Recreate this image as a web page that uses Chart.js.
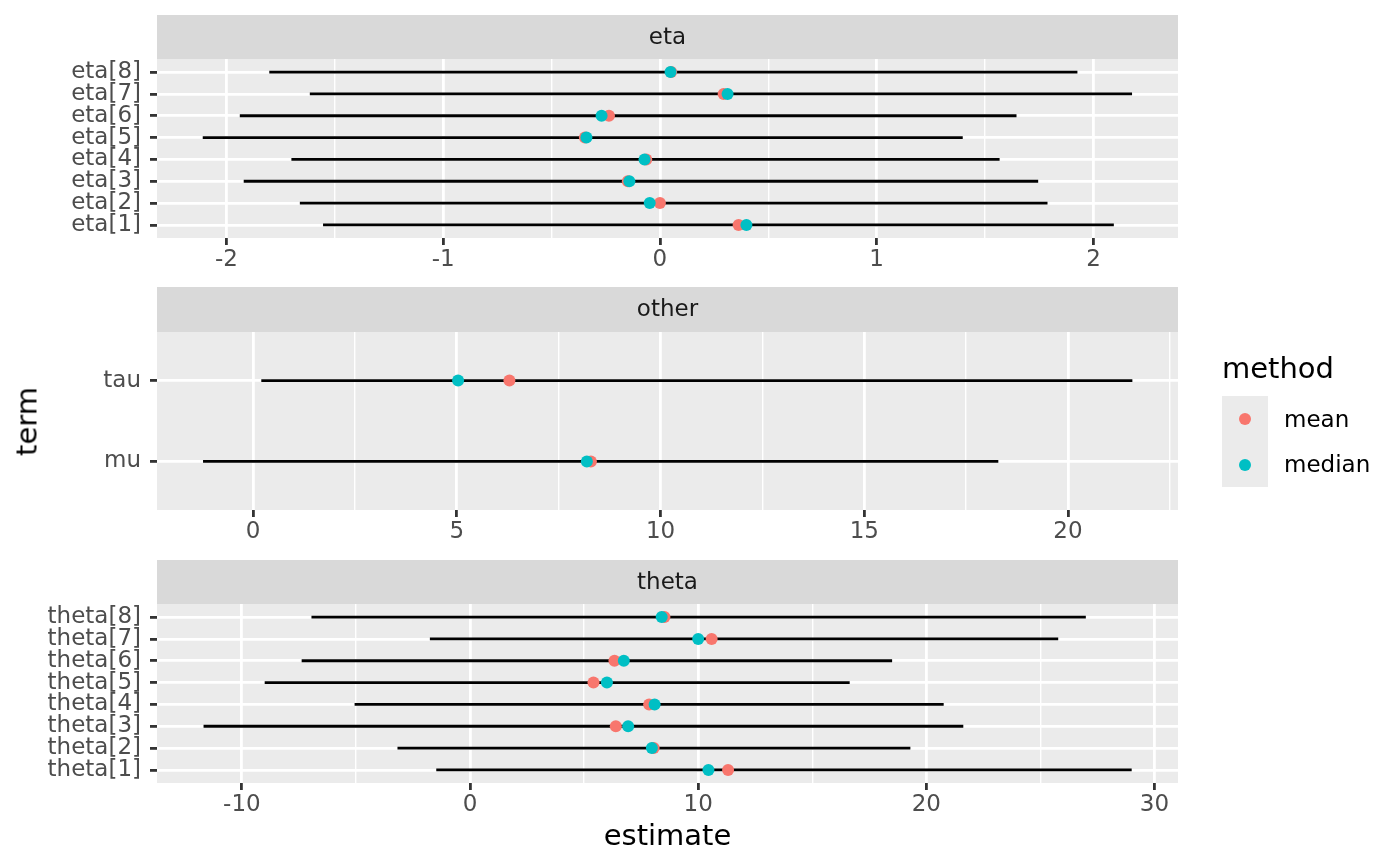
<!DOCTYPE html>
<html>
<head>
<meta charset="utf-8">
<script src="https://cdn.jsdelivr.net/npm/chart.js@4.4.1/dist/chart.umd.min.js"></script>
<style>
  body { margin: 0; background: #fff; width: 1400px; height: 866px; position: relative; overflow: hidden; font-family: "DejaVu Sans", sans-serif; }
  canvas { position: absolute; left: 0; }
  .lbl { position: absolute; white-space: nowrap; line-height: 1; }
  #legend-key { position: absolute; left: 1222px; top: 396px; width: 46px; height: 91px; background: #EBEBEB; }
  .dot { position: absolute; width: 12px; height: 12px; border-radius: 50%; }
</style>
</head>
<body>
<canvas id="p1" width="1400" height="267" style="top:15px"></canvas>
<canvas id="p2" width="1400" height="267" style="top:287px"></canvas>
<canvas id="p3" width="1400" height="267" style="top:560px"></canvas>

<div class="lbl" style="left:157px; width:1021px; top:821px; text-align:center; font-size:29px; color:#000">estimate</div>
<div class="lbl" style="left:-73px; width:200px; top:407px; height:29px; line-height:29px; text-align:center; font-size:29px; color:#000; transform:rotate(-90deg)">term</div>

<div class="lbl" style="left:1222px; top:354px; font-size:29px; color:#000">method</div>
<div id="legend-key"></div>
<div class="dot" style="left:1239px; top:413px; background:#F8766D"></div>
<div class="dot" style="left:1239px; top:459px; background:#00BFC4"></div>
<div class="lbl" style="left:1284px; top:408px; font-size:23px; color:#000">mean</div>
<div class="lbl" style="left:1284px; top:453px; font-size:23px; color:#000">median</div>

<script>
// Data (rows from bottom to top)
const etaTerms = ['eta[1]', 'eta[2]', 'eta[3]', 'eta[4]', 'eta[5]', 'eta[6]', 'eta[7]', 'eta[8]'];
const etaLow = [-1.554, -1.661, -1.920, -1.700, -2.109, -1.938, -1.615, -1.802];
const etaHigh = [2.094, 1.788, 1.745, 1.567, 1.397, 1.645, 2.178, 1.926];
const etaMean = [0.363, 0.000, -0.148, -0.063, -0.346, -0.235, 0.294, 0.052];
const etaMedian = [0.399, -0.047, -0.141, -0.071, -0.339, -0.269, 0.312, 0.049];
const etaMajor = [-2, -1, 0, 1, 2];
const etaMinor = [-1.5, -0.5, 0.5, 1.5];
const etaRange = [-2.32, 2.39];

const otherTerms = ['mu', 'tau'];
const otherLow = [-1.23, 0.20];
const otherHigh = [18.29, 21.58];
const otherMean = [8.29, 6.29];
const otherMedian = [8.19, 5.03];
const otherMajor = [0, 5, 10, 15, 20];
const otherMinor = [2.5, 7.5, 12.5, 17.5, 22.5];
const otherRange = [-2.36, 22.70];

const thetaTerms = ['theta[1]', 'theta[2]', 'theta[3]', 'theta[4]', 'theta[5]', 'theta[6]', 'theta[7]', 'theta[8]'];
const thetaLow = [-1.48, -3.18, -11.68, -5.06, -9.00, -7.38, -1.76, -6.95];
const thetaHigh = [29.00, 19.30, 21.62, 20.76, 16.64, 18.50, 25.78, 26.99];
const thetaMean = [11.31, 8.05, 6.39, 7.85, 5.41, 6.33, 10.59, 8.52];
const thetaMedian = [10.45, 7.97, 6.93, 8.09, 6.00, 6.74, 10.00, 8.40];
const thetaMajor = [-10, 0, 10, 20, 30];
const thetaMinor = [-5, 5, 15, 25];
const thetaRange = [-13.72, 31.03];

const MEAN_COLOR = '#F8766D';
const MEDIAN_COLOR = '#00BFC4';
const FONT = '"DejaVu Sans"';

Chart.defaults.font.family = FONT;

// Grey panel background and facet strip
const panelPlugin = {
    id: 'panel',
    beforeDraw(chart, args, opts) {
        const { ctx, chartArea: a } = chart;
        ctx.save();
        ctx.fillStyle = '#EBEBEB';
        ctx.fillRect(a.left, a.top, a.right - a.left, a.bottom - a.top);
        ctx.fillStyle = '#D9D9D9';
        ctx.fillRect(a.left, 0, a.right - a.left, a.top);
        ctx.fillStyle = '#1A1A1A';
        ctx.font = '23px ' + FONT;
        ctx.textAlign = 'center';
        ctx.textBaseline = 'middle';
        ctx.fillText(opts.text, (a.left + a.right) / 2, a.top / 2 + 1);
        ctx.restore();
    }
};

function makePanel(id, strip, stripHeight, terms, low, high, mean, median, major, minor, range) {
    const isMinor = c => c.tick && minor.includes(c.tick.value);

    const segments = terms.map((t, i) => ({
        data: [{ x: low[i], y: i + 1 }, { x: high[i], y: i + 1 }],
        showLine: true,
        borderColor: '#000',
        borderWidth: 2.8,
        pointRadius: 0,
        order: 2
    }));

    const points = [
        {
            label: 'median',
            data: median.map((v, i) => ({ x: v, y: i + 1 })),
            backgroundColor: MEDIAN_COLOR,
            borderWidth: 0,
            pointRadius: 6,
            order: 0
        },
        {
            label: 'mean',
            data: mean.map((v, i) => ({ x: v, y: i + 1 })),
            backgroundColor: MEAN_COLOR,
            borderWidth: 0,
            pointRadius: 6,
            order: 1
        }
    ];

    return new Chart(document.getElementById(id), {
        type: 'scatter',
        data: { datasets: points.concat(segments) },
        plugins: [panelPlugin],
        options: {
            responsive: false,
            animation: false,
            events: [],
            layout: { padding: { top: stripHeight, right: 222, left: 0, bottom: 0 } },
            plugins: {
                legend: { display: false },
                tooltip: { enabled: false },
                panel: { text: strip }
            },
            scales: {
                x: {
                    type: 'linear',
                    min: range[0],
                    max: range[1],
                    afterBuildTicks(s) {
                        s.ticks = major.concat(minor).sort((a, b) => a - b).map(v => ({ value: v }));
                    },
                    afterFit(s) { s.height = 44; },
                    border: { display: false },
                    grid: {
                        color: '#FFFFFF',
                        lineWidth: c => isMinor(c) ? 1.4 : 2.8,
                        tickColor: c => isMinor(c) ? 'rgba(0,0,0,0)' : '#333333',
                        tickWidth: 2.8,
                        tickLength: 7
                    },
                    ticks: {
                        autoSkip: false,
                        maxRotation: 0,
                        padding: 1,
                        color: '#4D4D4D',
                        font: { size: 23 },
                        callback: v => major.includes(v) ? String(v) : ''
                    }
                },
                y: {
                    type: 'linear',
                    min: 0.4,
                    max: terms.length + 0.6,
                    afterBuildTicks(s) {
                        s.ticks = terms.map((t, i) => ({ value: i + 1 }));
                    },
                    afterFit(s) { s.width = 157; },
                    border: { display: false },
                    grid: {
                        color: '#FFFFFF',
                        lineWidth: 2.8,
                        tickColor: '#333333',
                        tickWidth: 2.8,
                        tickLength: 7
                    },
                    ticks: {
                        autoSkip: false,
                        padding: 9,
                        color: '#4D4D4D',
                        font: { size: 23, lineHeight: 1 },
                        callback: v => terms[Math.round(v) - 1]
                    }
                }
            }
        }
    });
}

makePanel('p1', 'eta', 44, etaTerms, etaLow, etaHigh, etaMean, etaMedian, etaMajor, etaMinor, etaRange);
makePanel('p2', 'other', 45, otherTerms, otherLow, otherHigh, otherMean, otherMedian, otherMajor, otherMinor, otherRange);
makePanel('p3', 'theta', 44, thetaTerms, thetaLow, thetaHigh, thetaMean, thetaMedian, thetaMajor, thetaMinor, thetaRange);
</script>
</body>
</html>
